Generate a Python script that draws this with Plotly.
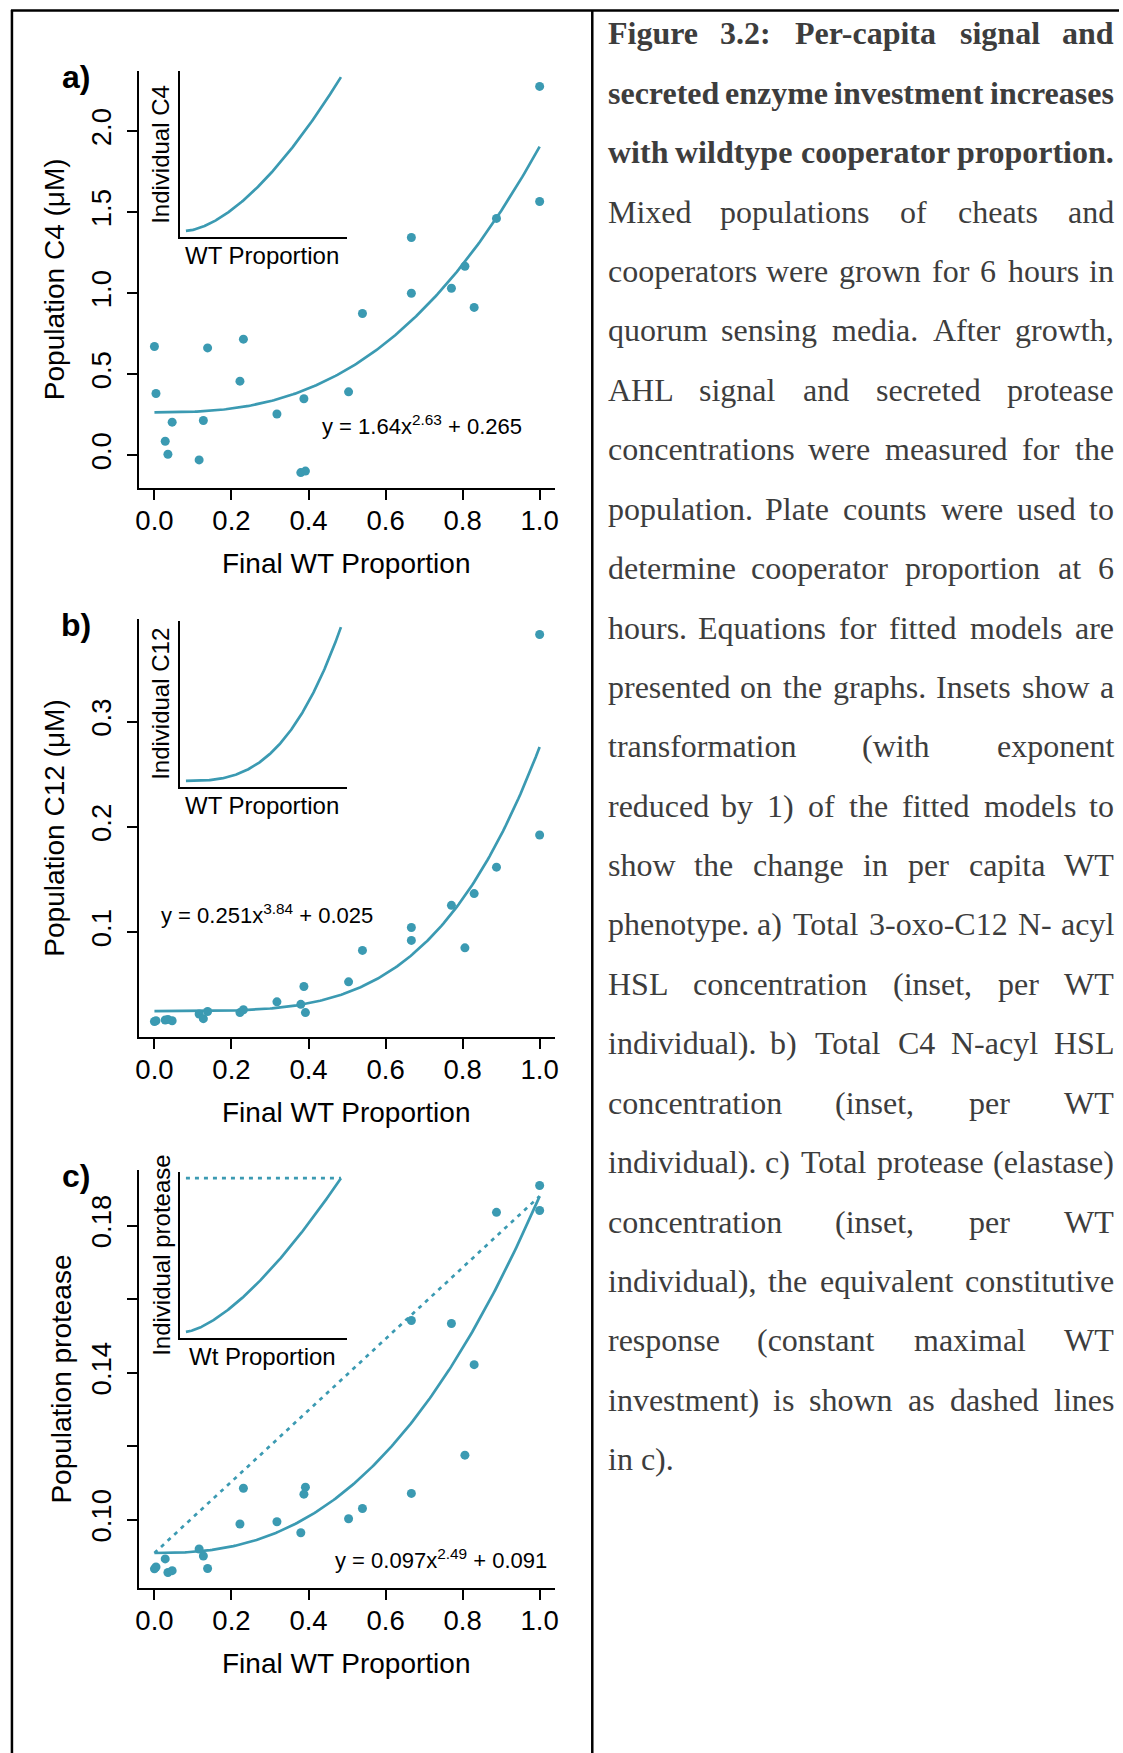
import numpy as np
import plotly.graph_objects as go

W, H = 1123, 1753
TEAL = "#3B9AB2"
SANS = "Liberation Sans, Arial, sans-serif"
SERIF = "Liberation Serif, Times New Roman, serif"
CAPTION_COLOR = "#3d3d3d"

# ---- data -------------------------------------------------------------
wt_prop = [0.000, 0.004, 0.028, 0.035, 0.046, 0.116, 0.127, 0.138, 0.222, 0.231,
           0.318, 0.380, 0.388, 0.392, 0.504, 0.540, 0.667, 0.667, 0.771, 0.806,
           0.830, 0.888, 1.000, 1.000]

c4_pop = [0.672, 0.382, 0.087, 0.007, 0.205, -0.028, 0.215, 0.663, 0.458, 0.717,
          0.255, -0.106, 0.349, -0.097, 0.392, 0.875, 1.344, 1.000, 1.031, 1.167,
          0.913, 1.462, 2.276, 1.566]

c12_pop = [0.0151, 0.0158, 0.0165, 0.0171, 0.0158, 0.0222, 0.0178, 0.0246, 0.0236, 0.0263,
           0.0338, 0.0314, 0.0484, 0.0236, 0.0528, 0.0827, 0.1044, 0.0922, 0.1255, 0.0851,
           0.1367, 0.1618, 0.3829, 0.1924]

protease_pop = [0.0867, 0.0872, 0.0894, 0.0857, 0.0862, 0.0921, 0.0902, 0.0868, 0.0989, 0.1086,
                0.0995, 0.0965, 0.1070, 0.1089, 0.1003, 0.1031, 0.1072, 0.1542, 0.1534, 0.1176,
                0.1422, 0.1836, 0.1909, 0.1841]

# fitted power models: y = a * x**b + c
c4_fit = (1.64, 2.63, 0.265)
c12_fit = (0.251, 3.84, 0.025)
protease_fit = (0.097, 2.49, 0.091)

x_ticks = [0.0, 0.2, 0.4, 0.6, 0.8, 1.0]
c4_ticks = [0.0, 0.5, 1.0, 1.5, 2.0]
c12_ticks = [0.1, 0.2, 0.3]
protease_ticks = [0.10, 0.12, 0.14, 0.16, 0.18]
protease_tick_text = ["0.10", "", "0.14", "", "0.18"]

# ---- helpers ----------------------------------------------------------
def px(x):
    return x / W


def py(y):
    return 1 - y / H


def padded(vals, frac=0.04):
    lo, hi = min(vals), max(vals)
    d = (hi - lo) * frac
    return [lo - d, hi + d]


def note(text, x, y, size, family=SANS, color="black", xanchor="center",
         yanchor="middle", **kw):
    return dict(text=text, x=px(x), y=py(y), xref="paper", yref="paper",
                xanchor=xanchor, yanchor=yanchor, showarrow=False, borderpad=0,
                font=dict(family=family, size=size, color=color), **kw)


grid = np.linspace(0, 1, 201)

fig = go.Figure()
layout = dict(
    width=W, height=H, autosize=False,
    margin=dict(l=0, r=0, t=0, b=0),
    paper_bgcolor="white", plot_bgcolor="white",
    showlegend=False,
)

MAIN_LEFT, MAIN_RIGHT = 136, 555
INSET_LEFT, INSET_RIGHT = 177, 345.6
INSET_H = 166
TITLE_SIZE = 28
TICK_SIZE = 27.5
INSET_SIZE = 24

panels = [
    dict(label="a)", top=71, bottom=488, y=c4_pop, fit=c4_fit, ticks=c4_ticks, ttext=None,
         tfmt=".1f", ytitle="Population C4 (μM)", ytitle_x=51,
         eq="y = 1.64x<sup>2.63</sup> + 0.265", eq_xy=(319, 425),
         inset_y="Individual C4", inset_x="WT Proportion", constitutive=False),
    dict(label="b)", top=619, bottom=1037, y=c12_pop, fit=c12_fit, ticks=c12_ticks, ttext=None,
         tfmt=".1f", ytitle="Population C12 (μM)", ytitle_x=51,
         eq="y = 0.251x<sup>3.84</sup> + 0.025", eq_xy=(157, 914),
         inset_y="Individual C12", inset_x="WT Proportion", constitutive=False),
    dict(label="c)", top=1170, bottom=1588, y=protease_pop, fit=protease_fit,
         ticks=protease_ticks, ttext=protease_tick_text, tfmt=None,
         ytitle="Population protease", ytitle_x=57,
         eq="y = 0.097x<sup>2.49</sup> + 0.091", eq_xy=(332, 1559),
         inset_y="Individual protease", inset_x="Wt Proportion", constitutive=True),
]

axis_common = dict(showgrid=False, zeroline=False, showline=True, linecolor="black",
                   linewidth=2)
tick_font = dict(family=SANS, size=TICK_SIZE, color="black")

annotations = []
shapes = []

for i, p in enumerate(panels):
    mx, my = 2 * i + 1, 2 * i + 1          # main axes index
    ix, iy = 2 * i + 2, 2 * i + 2          # inset axes index
    a, b, c = p["fit"]
    xname = lambda k: "x" if k == 1 else f"x{k}"
    yname = lambda k: "y" if k == 1 else f"y{k}"

    # main scatter and fitted curve
    fig.add_trace(go.Scatter(x=grid, y=a * grid ** b + c, mode="lines",
                             line=dict(color=TEAL, width=2.7),
                             xaxis=xname(mx), yaxis=yname(my), hoverinfo="skip"))
    if p["constitutive"]:
        xs = np.array([0.0, 1.0])
        fig.add_trace(go.Scatter(x=xs, y=c + a * xs, mode="lines",
                                 line=dict(color=TEAL, width=2.7, dash="4px,5px"),
                                 xaxis=xname(mx), yaxis=yname(my), hoverinfo="skip"))
    fig.add_trace(go.Scatter(x=wt_prop, y=p["y"], mode="markers",
                             marker=dict(color=TEAL, size=9, line=dict(width=0)),
                             xaxis=xname(mx), yaxis=yname(my)))

    xdom = [px(MAIN_LEFT), px(MAIN_RIGHT)]
    ydom = [py(p["bottom"]), py(p["top"])]
    layout["xaxis" if mx == 1 else f"xaxis{mx}"] = dict(
        axis_common, domain=xdom, range=padded(wt_prop), anchor=yname(my),
        ticks="outside", ticklen=10, tickwidth=2, tickcolor="black",
        tickvals=x_ticks, tickformat=".1f", tickfont=tick_font, ticklabelstandoff=-3)
    yax = dict(axis_common, domain=ydom, range=padded(p["y"]), anchor=xname(mx),
               ticks="outside", ticklen=10, tickwidth=2, tickcolor="black",
               tickvals=p["ticks"], tickfont=tick_font, tickangle=-90,
               ticklabelstandoff=5)
    if p["ttext"] is not None:
        yax["ticktext"] = p["ttext"]
    else:
        yax["tickformat"] = p["tfmt"]
    layout[f"yaxis{my}" if my > 1 else "yaxis"] = yax

    # inset: per-capita curve (exponent reduced by one)
    per_cap = a * grid ** (b - 1)
    fig.add_trace(go.Scatter(x=grid, y=per_cap, mode="lines",
                             line=dict(color=TEAL, width=2.7),
                             xaxis=xname(ix), yaxis=yname(iy), hoverinfo="skip"))
    if p["constitutive"]:
        fig.add_trace(go.Scatter(x=[0.0, 1.0], y=[a, a], mode="lines",
                                 line=dict(color=TEAL, width=2.7, dash="4px,5px"),
                                 xaxis=xname(ix), yaxis=yname(iy), hoverinfo="skip"))
    itop = p["top"] + (2 if i > 0 else 0)
    layout[f"xaxis{ix}"] = dict(axis_common, domain=[px(INSET_LEFT), px(INSET_RIGHT)],
                                range=padded([0, 1]), anchor=yname(iy),
                                showticklabels=False, ticks="")
    layout[f"yaxis{iy}"] = dict(axis_common, domain=[py(itop + INSET_H), py(itop)],
                                range=padded([0, a]), anchor=xname(ix),
                                showticklabels=False, ticks="")

    # labels
    annotations += [
        note(f"<b>{p['label']}</b>", 73, p["top"] + 6, 32),
        note(p["ytitle"], p["ytitle_x"], (p["top"] + p["bottom"]) / 2, TITLE_SIZE,
             textangle=-90),
        note("Final WT Proportion", 344, p["bottom"] + 75, TITLE_SIZE),
        note(p["eq"], p["eq_xy"][0], p["eq_xy"][1], 22, xanchor="left"),
        note(p["inset_y"], 158, itop + INSET_H / 2, INSET_SIZE, textangle=-90),
        note(p["inset_x"], 260, itop + INSET_H + 18, INSET_SIZE),
    ]

# ---- frame ------------------------------------------------------------
frame = dict(type="line", xref="paper", yref="paper", line=dict(color="black", width=2.5))
shapes += [
    dict(frame, x0=px(7), x1=1, y0=py(10.5), y1=py(10.5)),
    dict(frame, x0=px(8), x1=px(8), y0=py(10), y1=0),
    dict(frame, x0=px(592.5), x1=px(592.5), y0=py(10), y1=0),
]

# ---- caption (justified, word by word) ---------------------------------
caption_lines = [
    ("Figure 3.2: Per-capita signal and", True),
    ("secreted enzyme investment increases", True),
    ("with wildtype cooperator proportion.", True),
    ("Mixed populations of cheats and", False),
    ("cooperators were grown for 6 hours in", False),
    ("quorum sensing media. After growth,", False),
    ("AHL signal and secreted protease", False),
    ("concentrations were measured for the", False),
    ("population. Plate counts were used to", False),
    ("determine cooperator proportion at 6", False),
    ("hours. Equations for fitted models are", False),
    ("presented on the graphs. Insets show a", False),
    ("transformation (with exponent", False),
    ("reduced by 1) of the fitted models to", False),
    ("show the change in per capita WT", False),
    ("phenotype. a) Total 3-oxo-C12 N- acyl", False),
    ("HSL concentration (inset, per WT", False),
    ("individual). b) Total C4 N-acyl HSL", False),
    ("concentration (inset, per WT", False),
    ("individual). c) Total protease (elastase)", False),
    ("concentration (inset, per WT", False),
    ("individual), the equivalent constitutive", False),
    ("response (constant maximal WT", False),
    ("investment) is shown as dashed lines", False),
    ("in c).", False),
]

_reg = dict(zip("abcdefghijklmnopqrstuvwxyz",
                [444, 500, 444, 500, 444, 333, 500, 500, 278, 278, 500, 278, 778,
                 500, 500, 500, 500, 333, 389, 278, 500, 500, 722, 500, 500, 444]))
_reg.update(dict(zip("ABCDEFGHIJKLMNOPQRSTUVWXYZ",
                     [722, 667, 667, 722, 611, 556, 722, 722, 333, 389, 722, 611, 889,
                      722, 722, 556, 722, 667, 556, 611, 722, 722, 944, 722, 722, 611])))
_bold = dict(zip("abcdefghijklmnopqrstuvwxyz",
                 [500, 556, 444, 556, 444, 333, 500, 556, 278, 333, 556, 278, 833,
                  556, 500, 556, 556, 444, 389, 333, 556, 500, 722, 500, 500, 444]))
_bold.update(dict(zip("ABCDEFGHIJKLMNOPQRSTUVWXYZ",
                      [722, 667, 722, 722, 667, 611, 778, 778, 389, 500, 778, 667, 944,
                       722, 778, 611, 778, 722, 556, 667, 722, 722, 1000, 722, 722, 667])))
for tbl, colon in ((_reg, 278), (_bold, 333)):
    tbl.update({d: 500 for d in "0123456789"})
    tbl.update({".": 250, ",": 250, ":": colon, "-": 333, "(": 333, ")": 333, " ": 250})

CAP_SIZE = 32
CAP_LEFT, CAP_RIGHT = 607, 1118.5
CAP_TOP, CAP_STEP = 33.5, 59.4


def word_width(w, bold):
    tbl = _bold if bold else _reg
    return sum(tbl.get(ch, 500) for ch in w) / 1000 * CAP_SIZE


for k, (line, bold) in enumerate(caption_lines):
    yc = CAP_TOP + k * CAP_STEP
    txt = (lambda s: f"<b>{s}</b>") if bold else (lambda s: s)
    words = line.split()
    if k == len(caption_lines) - 1 or len(words) == 1:
        annotations.append(note(txt(line), CAP_LEFT, yc, CAP_SIZE, family=SERIF,
                                color=CAPTION_COLOR, xanchor="left"))
        continue
    widths = [word_width(w, bold) for w in words]
    gap = (CAP_RIGHT - CAP_LEFT - sum(widths)) / (len(words) - 1)
    xpos = CAP_LEFT
    for j, (w, ww) in enumerate(zip(words, widths)):
        if j == 0:
            ax, anchor = CAP_LEFT, "left"
        elif j == len(words) - 1:
            ax, anchor = CAP_RIGHT, "right"
        else:
            ax, anchor = xpos + ww / 2, "center"
        annotations.append(note(txt(w), ax, yc, CAP_SIZE, family=SERIF,
                                color=CAPTION_COLOR, xanchor=anchor))
        xpos += ww + gap

layout["annotations"] = annotations
layout["shapes"] = shapes
fig.update_layout(**layout)
fig.write_html("out.html")
